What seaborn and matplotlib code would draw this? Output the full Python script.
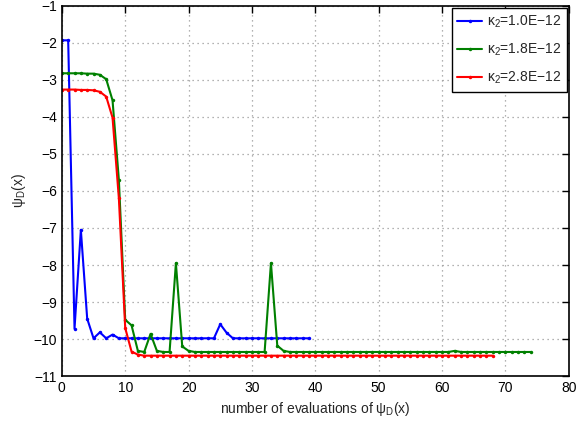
import matplotlib
matplotlib.use('Agg')
import matplotlib.pyplot as plt
import seaborn as sns
import pandas as pd

# psi_D(x) per evaluation
blue_y = [-1.93, -1.93, -9.72, -7.05, -9.45, -9.98, -9.82, -9.98, -9.88, -9.98,
          -9.98, -9.98, -9.98, -9.98, -9.98, -9.98, -9.98, -9.98, -9.98, -9.98,
          -9.98, -9.98, -9.98, -9.98, -9.98, -9.60, -9.83, -9.98, -9.98, -9.98,
          -9.98, -9.98, -9.98, -9.98, -9.98, -9.98, -9.98, -9.98, -9.98, -9.98]

green_y = [-2.82, -2.82, -2.82, -2.82, -2.83, -2.83, -2.86, -2.98, -3.55, -5.70,
           -9.48, -9.63, -10.32, -10.35, -9.86, -10.32, -10.35, -10.35, -7.95, -10.20,
           -10.32, -10.35, -10.35, -10.35, -10.35, -10.35, -10.35, -10.35, -10.35, -10.35,
           -10.35, -10.35, -10.35, -7.95, -10.18, -10.32, -10.35, -10.35, -10.35, -10.35,
           -10.35, -10.35, -10.35, -10.35, -10.35, -10.35, -10.35, -10.35, -10.35, -10.35,
           -10.35, -10.35, -10.35, -10.35, -10.35, -10.35, -10.35, -10.35, -10.35, -10.35,
           -10.35, -10.35, -10.32, -10.35, -10.35, -10.35, -10.35, -10.35, -10.35, -10.35,
           -10.35, -10.35, -10.35, -10.35, -10.35]

red_y = [-3.26, -3.26, -3.26, -3.27, -3.27, -3.28, -3.32, -3.45, -4.02, -6.20,
         -9.70, -10.34, -10.42, -10.45, -10.45, -10.45, -10.45, -10.45, -10.45, -10.45,
         -10.45, -10.45, -10.45, -10.45, -10.45, -10.45, -10.45, -10.45, -10.45, -10.45,
         -10.45, -10.45, -10.45, -10.45, -10.45, -10.45, -10.45, -10.45, -10.45, -10.45,
         -10.45, -10.45, -10.45, -10.45, -10.45, -10.45, -10.45, -10.45, -10.45, -10.45,
         -10.45, -10.45, -10.45, -10.45, -10.45, -10.45, -10.45, -10.45, -10.45, -10.45,
         -10.45, -10.45, -10.45, -10.45, -10.45, -10.45, -10.45, -10.45, -10.45]

labels = ['κ$_2$=1.0E−12', 'κ$_2$=1.8E−12', 'κ$_2$=2.8E−12']
colors = ['#0000ff', '#008000', '#ff0000']

sns.set_style('white')
plt.rcParams['font.family'] = ['Liberation Sans', 'DejaVu Sans']
plt.rcParams['mathtext.fontset'] = 'custom'
plt.rcParams['mathtext.rm'] = 'Liberation Sans'
plt.rcParams['mathtext.it'] = 'Liberation Sans:italic'

fig = plt.figure(figsize=(5.78, 4.23), dpi=100)
ax = fig.add_axes([0.107, 0.111, 0.877, 0.875])

for ys, lab, c in zip([blue_y, green_y, red_y], labels, colors):
    df = pd.DataFrame({'x': range(len(ys)), 'y': ys})
    sns.lineplot(data=df, x='x', y='y', ax=ax, color=c, label=lab,
                 marker='.', markersize=5, markeredgewidth=0, linewidth=1.5)

ax.set_xlim(0, 80)
ax.set_ylim(-11, -1)
ax.set_xticks(range(0, 81, 10))
ax.set_yticks(range(-11, 0, 1))
ax.tick_params(direction='in', top=True, right=True, length=5, width=1,
               labelsize=10, colors='black')
ax.grid(True, linestyle=(0, (1, 3)), color='#999999', linewidth=0.9)
for s in ax.spines.values():
    s.set_color('black')
    s.set_linewidth(1.2)

ax.set_xlabel('number of evaluations of ψ$_\\mathrm{D}$(x)', fontsize=10)
ax.set_ylabel('ψ$_\\mathrm{D}$(x)', fontsize=10)

leg = ax.legend(loc='upper right', fontsize=10, frameon=True, fancybox=False,
                edgecolor='black', framealpha=1, handlelength=1.8,
                handletextpad=0.3, borderaxespad=0.15, labelspacing=0.85,
                borderpad=0.4)
leg.get_frame().set_linewidth(1.0)

fig.savefig('out.png', dpi=100)
